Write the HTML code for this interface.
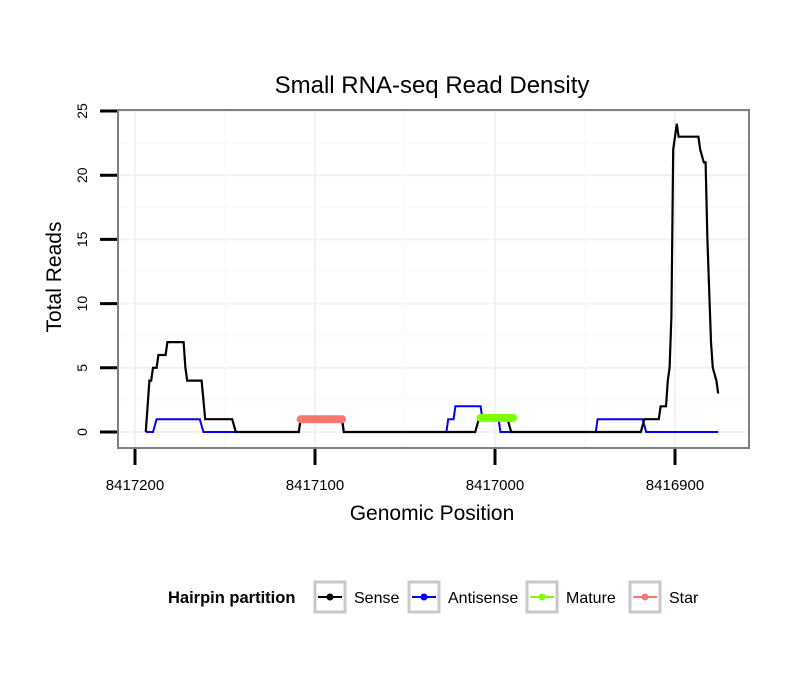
<!DOCTYPE html>
<html><head><meta charset="utf-8"><style>
body{margin:0;background:#fff;font-family:"Liberation Sans",sans-serif}
</style></head><body>
<svg id="chart" width="810" height="690" xmlns="http://www.w3.org/2000/svg" font-family="Liberation Sans, sans-serif">
<rect width="810" height="690" fill="#fff"/>
<text x="432" y="93" font-size="24" text-anchor="middle">Small RNA-seq Read Density</text>
<g id="grid"></g>
<g id="series"></g>
<rect x="118" y="110" width="631" height="338" fill="none" stroke="#808080" stroke-width="2"/>
<g id="axes"></g>
<text transform="translate(61,277) rotate(-90)" font-size="21" text-anchor="middle">Total Reads</text>
<text x="432" y="520" font-size="21" text-anchor="middle">Genomic Position</text>
<g>
<text x="168" y="603" font-size="16.5" font-weight="bold">Hairpin partition</text>
<g id="legend"></g>
</g>
</svg>
<script>
const yTicks=[0,5,10,15,20,25];
const xTicks=[8417200,8417100,8417000,8416900];
const xTickLabels=["8417200","8417100","8417000","8416900"];
const sensePos=[8417194,8417192,8417191,8417190,8417188,8417187,8417183,8417182,8417173,8417172,8417171,8417163,8417161,8417146,8417144,8417109,8417108,8417085,8417084,8417011,8417009,8416993,8416991,8416919,8416917,8416909,8416908,8416905,8416904,8416903,8416902,8416901,8416900,8416899,8416898,8416887,8416886,8416884,8416883,8416882,8416880,8416879,8416877,8416876];
const senseVal=[0,4,4,5,5,6,6,7,7,5,4,4,1,1,0,0,1,1,0,0,1,1,0,0,1,1,2,2,4,5,9,22,23,24,23,23,22,21,21,15,7,5,4,3];
const antiPos=[8417194,8417190,8417188,8417164,8417162,8417109,8417108,8417085,8417084,8417027,8417026,8417023,8417022,8417008,8417007,8416998,8416997,8416944,8416943,8416918,8416916,8416876];
const antiVal=[0,0,1,1,0,0,1,1,0,0,1,1,2,2,1,1,0,0,1,1,0,0];
const maturePos=[8417008,8416990];
const matureVal=[1.1,1.1];
const starPos=[8417108,8417085];
const starVal=[1.0,1.0];
const legendNames=["Sense","Antisense","Mature","Star"];
const legendColors=["#000000","#0000ff","#7fff00","#f8766d"];

const NS="http://www.w3.org/2000/svg";
const X0=135,XP=8417200,XS=1.8,Y0=432,YS=12.84;
function xs(p){return X0+(XP-p)*XS;}
function ys(v){return Y0-v*YS;}
function mk(t,a,parent){const e=document.createElementNS(NS,t);for(const k in a)e.setAttribute(k,a[k]);parent.appendChild(e);return e;}
const grid=document.getElementById('grid'),axes=document.getElementById('axes'),ser=document.getElementById('series');
for(let v=0;v<=27.5;v+=2.5){const y=ys(v);if(y<111)continue;const l=mk('line',{x1:119,x2:748,y1:y,y2:y,stroke:(v%5===0)?'#f2f2f2':'#fafafa','stroke-width':(v%5===0)?2:1.5},grid);

}
for(let p=8417250;p>=8416850;p-=50){const x=xs(p);if(x<119||x>748)continue;const l=mk('line',{x1:x,x2:x,y1:111,y2:447,stroke:(p%100===0)?'#f2f2f2':'#fafafa','stroke-width':(p%100===0)?2:1.5},grid);

}
yTicks.forEach(v=>{const y=ys(v);const t=mk('line',{x1:100,x2:117,y1:y,y2:y,stroke:'#000','stroke-width':3},axes);


const tx=mk('text',{transform:`translate(87,${y}) rotate(-90)`,'font-size':14,'text-anchor':'middle'},axes);tx.textContent=v;

});
xTicks.forEach((p,i)=>{const x=xs(p);const t=mk('line',{x1:x,x2:x,y1:449,y2:465,stroke:'#000','stroke-width':3},axes);


const tx=mk('text',{x:x,y:490,'font-size':15,'text-anchor':'middle'},axes);tx.textContent=xTickLabels[i];

});
function path(P,V){return P.map((p,i)=>(i?'L':'M')+xs(p).toFixed(1)+','+ys(V[i]).toFixed(1)).join(' ');}
const a=mk('path',{d:path(antiPos,antiVal),fill:'none',stroke:'#0000ff','stroke-width':2},ser);


const s=mk('path',{d:path(sensePos,senseVal),fill:'none',stroke:'#000','stroke-width':2.2},ser);


const m=mk('path',{d:path(maturePos,matureVal),fill:'none',stroke:'#7fff00','stroke-width':8,'stroke-linecap':'round'},ser);


const st=mk('path',{d:path(starPos,starVal),fill:'none',stroke:'#f8766d','stroke-width':8,'stroke-linecap':'round'},ser);


const lg=document.getElementById('legend');const lx=[315,409,527,630];
legendNames.forEach((n,i)=>{const x=lx[i];const g=mk('g',{},lg);


mk('rect',{x:x,y:582,width:30,height:30,fill:'#fff',stroke:'#c8c8c8','stroke-width':3},g);
mk('line',{x1:x+3,x2:x+27,y1:597,y2:597,stroke:legendColors[i],'stroke-width':2},g);
mk('circle',{cx:x+15,cy:597,r:3.5,fill:legendColors[i]},g);
const t=mk('text',{x:x+39,y:603,'font-size':16},g);t.textContent=n;});
</script>
</body></html>
